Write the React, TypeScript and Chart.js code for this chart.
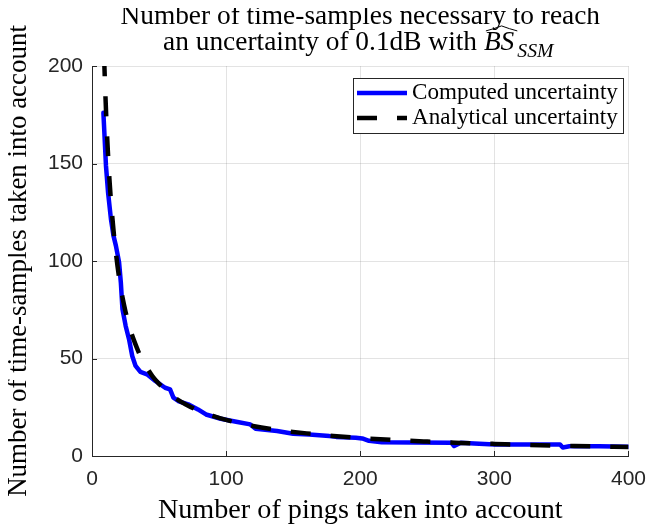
import React, { useEffect, useRef } from "react";
import { Chart, registerables } from "chart.js";
Chart.register(...registerables);

// ---- data ----
const computedPings = [8.5, 10.4, 12, 14.1, 16, 17.8, 20.2, 21.5, 22.7, 25.1, 27.6, 30, 32.5, 36.1, 41, 47.2, 54.5, 58.2, 60.7, 64.3, 71.7, 79, 85, 96, 108.5, 118, 122, 138, 150, 162, 177, 182, 196.7, 201.5, 206.5, 216, 240, 268, 270, 275, 285, 300, 329, 349, 351, 356, 378, 400];
const computedSamples = [176, 149, 135, 121.6, 113, 107.9, 99.3, 89, 75.3, 66.7, 59.9, 51.3, 46.2, 43.1, 41.9, 38.5, 35, 34.2, 29.9, 28.2, 26.5, 23.9, 21.3, 19.1, 17.4, 16.2, 14, 12.8, 11.4, 11, 10.2, 9.8, 9.4, 9.0, 7.8, 7.1, 6.9, 6.8, 5.1, 6.8, 6.4, 5.9, 5.9, 5.9, 4.4, 5.0, 5.0, 4.8];

const analyticalPings = [9, 10, 11, 12, 13, 14, 16, 18, 20, 22, 25, 28, 32, 36, 40, 45, 50, 60, 70, 80, 90, 100, 120, 140, 160, 180, 200, 225, 250, 275, 300, 325, 350, 375, 400];
const analyticalSamples = [205, 185, 168, 154, 142, 132, 116, 103, 92.5, 84, 74, 66, 58, 51.4, 46.3, 41, 37, 30.8, 26.4, 23.1, 20.6, 18.5, 15.4, 13.2, 11.6, 10.3, 9.25, 8.2, 7.4, 6.7, 6.2, 5.7, 5.3, 4.9, 4.6];

const xTicks = [0, 100, 200, 300, 400];
const yTicks = [0, 50, 100, 150, 200];

const titleLine1 = "Number of time-samples necessary to reach";
const titleLine2 = "an uncertainty of 0.1dB with ";
const estimatorBase = "BS";
const estimatorSub = "SSM";
const xTitle = "Number of pings taken into account";
const yTitle = "Number of time-samples taken into account";
const legendLabels = ["Computed uncertainty", "Analytical uncertainty"];

const SERIF = '"Liberation Serif", "DejaVu Serif", serif';
const SANS = '"Liberation Sans", Arial, sans-serif';
const AXIS = "#262626";

function fit(text: string, family: string, target: number, style = "") {
  const c = document.createElement("canvas").getContext("2d")!;
  c.font = `${style} 100px ${family}`;
  return (target / c.measureText(text).width) * 100;
}

export default function App() {
  const ref = useRef<HTMLCanvasElement>(null);
  useEffect(() => {
    const titleSize = fit(titleLine1, SERIF, 480);
    const xTitleSize = fit(xTitle, SERIF, 405);
    const yTitleSize = fit(yTitle, SERIF, 472);
    const legendSize = fit(legendLabels[0], SERIF, 206);

    const decor = {
      id: "decor",
      afterDraw(chart: any) {
        const ctx = chart.ctx as CanvasRenderingContext2D;
        const { left, right, bottom } = chart.chartArea;
        const xs = chart.scales.x;
        const ys = chart.scales.y;
        ctx.save();
        // inward ticks
        ctx.strokeStyle = AXIS;
        ctx.lineWidth = 1;
        ctx.beginPath();
        xTicks.forEach((v) => {
          const px = Math.round(xs.getPixelForValue(v)) + 0.5;
          ctx.moveTo(px, bottom);
          ctx.lineTo(px, bottom - 5);
        });
        yTicks.forEach((v) => {
          const py = Math.round(ys.getPixelForValue(v)) + 0.5;
          ctx.moveTo(left, py);
          ctx.lineTo(left + 5, py);
        });
        ctx.stroke();

        // title
        const cx = (left + right) / 2;
        ctx.fillStyle = "#000";
        ctx.textBaseline = "alphabetic";
        ctx.textAlign = "left";
        ctx.font = `${titleSize}px ${SERIF}`;
        const w1 = ctx.measureText(titleLine1).width;
        ctx.fillText(titleLine1, cx - w1 / 2, 24);
        const wA = ctx.measureText(titleLine2).width;
        ctx.font = `italic ${titleSize}px ${SERIF}`;
        const wBText = ctx.measureText(estimatorBase).width;
        const wB = wBText + 3;
        const subSize = titleSize * 0.72;
        ctx.font = `italic ${subSize}px ${SERIF}`;
        const wS = ctx.measureText(estimatorSub).width + 4;
        const total = wA + wB + wS;
        let x0 = cx - total / 2;
        const base2 = 50;
        ctx.font = `${titleSize}px ${SERIF}`;
        ctx.fillText(titleLine2, x0, base2);
        x0 += wA;
        ctx.font = `italic ${titleSize}px ${SERIF}`;
        ctx.fillText(estimatorBase, x0, base2);
        // wide hat over the estimator
        const capTop = base2 - titleSize * 0.66;
        const hl = x0 + 2;
        const hr = x0 + wBText + 3;
        const hm = (hl + hr) / 2;
        ctx.beginPath();
        ctx.lineWidth = 1;
        ctx.strokeStyle = "#000";
        ctx.moveTo(hl, capTop - 1);
        ctx.quadraticCurveTo((hl + hm) / 2, capTop - 3, hm, capTop - 6);
        ctx.quadraticCurveTo((hm + hr) / 2, capTop - 3, hr, capTop - 1);
        ctx.stroke();
        x0 += wB;
        ctx.font = `italic ${subSize}px ${SERIF}`;
        ctx.fillText(estimatorSub, x0, base2 + titleSize * 0.24);

        // legend
        const bx = 353, by = 78, bw = 270, bh = 55;
        ctx.fillStyle = "#fff";
        ctx.fillRect(bx, by, bw, bh);
        ctx.strokeStyle = AXIS;
        ctx.lineWidth = 1;
        ctx.strokeRect(bx + 0.5, by + 0.5, bw, bh);
        const rows = [93, 118];
        const styles = [
          { color: "#0000ff", dash: [] as number[] },
          { color: "#000000", dash: [20, 20] },
        ];
        rows.forEach((ry, i) => {
          ctx.beginPath();
          ctx.setLineDash(styles[i].dash);
          ctx.lineCap = "butt";
          ctx.strokeStyle = styles[i].color;
          ctx.lineWidth = 4.5;
          ctx.moveTo(357, ry);
          ctx.lineTo(407, ry);
          ctx.stroke();
          ctx.setLineDash([]);
          ctx.fillStyle = "#000";
          ctx.font = `${legendSize}px ${SERIF}`;
          ctx.textBaseline = "middle";
          ctx.fillText(legendLabels[i], 412, ry);
        });
        ctx.restore();
      },
    };

    const chart = new Chart(ref.current!, {
      type: "line",
      data: {
        datasets: [
          {
            label: legendLabels[1],
            data: analyticalPings.map((x, i) => ({ x, y: analyticalSamples[i] })),
            borderColor: "#000000",
            borderWidth: 4.5,
            borderDash: [20, 20],
            borderCapStyle: "butt",
            cubicInterpolationMode: "monotone",
            pointRadius: 0,
            order: 0,
            clip: 0,
          } as any,
          {
            label: legendLabels[0],
            data: computedPings.map((x, i) => ({ x, y: computedSamples[i] })),
            borderColor: "#0000ff",
            borderWidth: 4.5,
            borderJoinStyle: "round",
            borderCapStyle: "round",
            tension: 0,
            pointRadius: 0,
            order: 1,
            clip: 0,
          } as any,
        ],
      },
      options: {
        animation: false,
        responsive: true,
        maintainAspectRatio: false,
        layout: { padding: { top: 66, right: 21, left: 0, bottom: 0 } },
        plugins: { legend: { display: false }, title: { display: false }, tooltip: { enabled: false } },
        scales: {
          x: {
            type: "linear",
            min: 0,
            max: 400,
            afterBuildTicks: (s: any) => {
              s.ticks = xTicks.map((v) => ({ value: v }));
            },
            afterFit: (s: any) => {
              s.height = 74;
            },
            ticks: { font: { family: SANS, size: 21 }, color: AXIS, padding: 11, maxRotation: 0, autoSkip: false },
            grid: { color: "rgba(0,0,0,0.11)", drawTicks: false, lineWidth: 1 },
            border: { color: AXIS, width: 1 },
            title: {
              display: true,
              text: xTitle,
              color: "#000",
              font: { family: SERIF, size: xTitleSize, lineHeight: 1 },
              padding: { top: 0, bottom: 5 },
            },
          },
          y: {
            type: "linear",
            min: 0,
            max: 200,
            afterBuildTicks: (s: any) => {
              s.ticks = yTicks.map((v) => ({ value: v }));
            },
            afterFit: (s: any) => {
              s.width = 92;
            },
            ticks: { font: { family: SANS, size: 21 }, color: AXIS, padding: 9, autoSkip: false },
            grid: { color: "rgba(0,0,0,0.11)", drawTicks: false, lineWidth: 1 },
            border: { color: AXIS, width: 1 },
            title: {
              display: true,
              text: yTitle,
              color: "#000",
              font: { family: SERIF, size: yTitleSize, lineHeight: 1 },
              padding: { top: 5, bottom: 0 },
            },
          },
        },
      } as any,
      plugins: [decor],
    });
    return () => chart.destroy();
  }, []);

  return (
    <div style={{ position: "relative", width: 657, height: 530, margin: "-8px 0 0 -8px" }}>
      <canvas ref={ref} />
    </div>
  );
}
